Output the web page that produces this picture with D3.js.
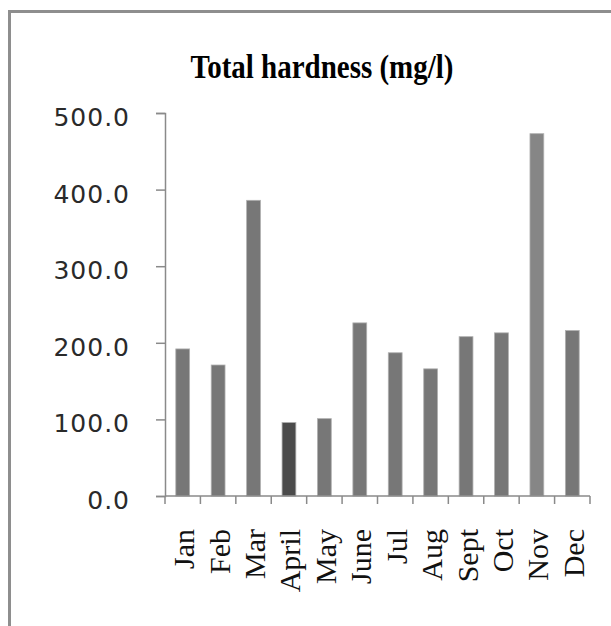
<!DOCTYPE html>
<html lang="en">
  <head>
    <meta charset="UTF-8" />
    <title>Total hardness (mg/l)</title>
    <style>
      body { margin: 0; background: #fff; }
      svg { display: block; }
    </style>
  </head>
  <body>
    <div id="chart"></div>
    <script src="https://d3js.org/d3.v7.min.js"></script>
    <script>
      // monthly values
      const months = ["Jan", "Feb", "Mar", "April", "May", "June", "Jul", "Aug", "Sept", "Oct", "Nov", "Dec"];
      const hardness = [192, 171, 386, 96, 101, 226, 187, 166, 208, 213, 473, 216];
      const yTicks = [0, 100, 200, 300, 400, 500];

      const width = 611, height = 626;
      const plotLeft = 165, plotRight = 590, plotTop = 113, plotBottom = 496;

      const svg = d3.select("#chart").append("svg")
        .attr("width", width)
        .attr("height", height);

      // outer frame (only top and left edges show)
      svg.append("path")
        .attr("d", `M9.5,${height}V11.5H${width}`)
        .attr("fill", "none")
        .attr("stroke", "#8e8e8e")
        .attr("stroke-width", 3);

      const x = d3.scaleBand().domain(months).range([plotLeft, plotRight]).padding(0);
      const y = d3.scaleLinear().domain([0, 500]).range([plotBottom, plotTop]);

      svg.append("text")
        .attr("x", 322)
        .attr("y", 78)
        .attr("text-anchor", "middle")
        .attr("font-family", "'Liberation Serif', 'Times New Roman', serif")
        .attr("font-weight", "bold")
        .attr("font-size", 33)
        .attr("textLength", 263)
        .attr("lengthAdjust", "spacingAndGlyphs")
        .text("Total hardness (mg/l)");

      const barW = x.bandwidth() * 0.39;
      const fills = d => d === "April" ? "#4b4b4b" : d === "Nov" ? "#868686" : "#777777";

      svg.append("g")
        .selectAll("rect")
        .data(months)
        .join("rect")
        .attr("x", d => x(d) + (x.bandwidth() - barW) / 2)
        .attr("y", (d, i) => y(hardness[i]))
        .attr("width", barW)
        .attr("height", (d, i) => y(0) - y(hardness[i]))
        .attr("fill", fills)
        .attr("stroke", "#b0b0b0")
        .attr("stroke-width", 0.8);

      // y axis
      const yAxis = svg.append("g")
        .attr("transform", `translate(${plotLeft},0)`)
        .call(d3.axisLeft(y).tickValues(yTicks).tickFormat(d3.format(".1f")).tickSize(9).tickPadding(26));
      yAxis.select(".domain").attr("stroke", "#8a8a8a").attr("stroke-width", 1.5);
      yAxis.selectAll(".tick line").attr("stroke", "#8a8a8a").attr("stroke-width", 1.5);
      yAxis.selectAll(".tick text")
        .attr("font-family", "'DejaVu Sans', Verdana, sans-serif")
        .attr("font-size", 25)
        .attr("letter-spacing", 1)
        .attr("fill", "#2a2a2a")
        .attr("dy", "0.5em");

      // x axis: ticks at band boundaries
      const xAxis = svg.append("g").attr("transform", `translate(0,${plotBottom})`);
      xAxis.append("line")
        .attr("x1", plotLeft).attr("x2", plotRight)
        .attr("stroke", "#8a8a8a").attr("stroke-width", 1.5);
      xAxis.selectAll("line.sep")
        .data(months.concat(["end"]))
        .join("line")
        .attr("class", "sep")
        .attr("x1", (d, i) => i < months.length ? x(d) : plotRight)
        .attr("x2", (d, i) => i < months.length ? x(d) : plotRight)
        .attr("y1", 0).attr("y2", 8)
        .attr("stroke", "#8a8a8a").attr("stroke-width", 1.5);
      xAxis.selectAll("text")
        .data(months)
        .join("text")
        .attr("transform", d => `translate(${x(d) + x.bandwidth() / 2 + 1},33) rotate(-90)`)
        .attr("dy", "0.35em")
        .attr("text-anchor", "end")
        .attr("font-family", "'Liberation Serif', 'Times New Roman', serif")
        .attr("font-size", 30)
        .attr("fill", "#111")
        .text(d => d);
    </script>
  </body>
</html>
